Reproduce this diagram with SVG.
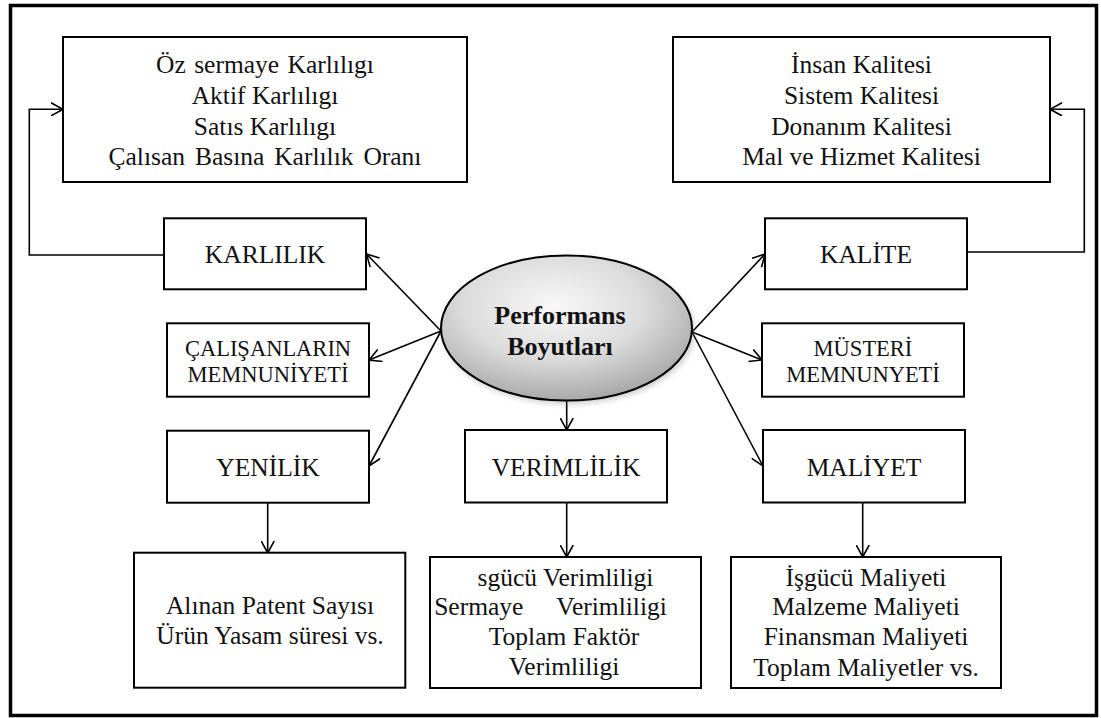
<svg xmlns="http://www.w3.org/2000/svg" width="1101" height="718" viewBox="0 0 1101 718">
  <defs>
    <style>
      .box { fill: #ffffff; stroke: #000000; stroke-width: 2; }
      .frame { fill: #ffffff; stroke: #000000; stroke-width: 3.5; }
      .conn { fill: none; stroke: #000000; stroke-width: 1.6; marker-end: url(#arrow); }
      text { font-family: "Liberation Serif", "DejaVu Serif", serif; fill: #111111; text-anchor: middle; }
      .t { font-size: 25.5px; }
      .s { font-size: 22.5px; }
      .b { font-size: 26px; font-weight: bold; }
    </style>
    <marker id="arrow" viewBox="0 0 13 14" refX="12.5" refY="7" markerWidth="13" markerHeight="14" markerUnits="userSpaceOnUse" orient="auto">
      <path d="M0.5,0.5 L12.5,7 L0.5,13.5" fill="none" stroke="#000000" stroke-width="1.6"/>
    </marker>
    <radialGradient id="ellFill" cx="45%" cy="35%" r="65%">
      <stop offset="0" stop-color="#f8f8f8"/>
      <stop offset="0.55" stop-color="#dcdcdc"/>
      <stop offset="1" stop-color="#a9a9a9"/>
    </radialGradient>
    <filter id="soft" x="-20%" y="-20%" width="140%" height="140%">
      <feGaussianBlur stdDeviation="3"/>
    </filter>
  </defs>

  <!-- outer frame -->
  <rect class="frame" x="10.5" y="5.5" width="1086" height="710"/>

  <!-- connectors -->
  <g id="connectors">
    <polyline class="conn" points="164,255 29.3,255 29.3,109.3 63,109.3"/>
    <polyline class="conn" points="967,252 1084.3,252 1084.3,109.3 1050,109.3"/>
    <line class="conn" x1="441" y1="331" x2="366.5" y2="254"/>
    <line class="conn" x1="441" y1="331" x2="369" y2="360"/>
    <line class="conn" x1="441" y1="331" x2="369" y2="466"/>
    <line class="conn" x1="692" y1="332" x2="765" y2="254"/>
    <line class="conn" x1="692" y1="332" x2="762" y2="360"/>
    <line class="conn" x1="692" y1="332" x2="763" y2="466"/>
    <line class="conn" x1="566.7" y1="401" x2="566.7" y2="430"/>
    <line class="conn" x1="267.7" y1="503" x2="267.7" y2="553"/>
    <line class="conn" x1="566.7" y1="502.5" x2="566.7" y2="557"/>
    <line class="conn" x1="862.7" y1="502.5" x2="862.7" y2="557"/>
  </g>

  <!-- central ellipse -->
  <g id="performans">
    <ellipse cx="568.5" cy="331" rx="125.5" ry="72.5" fill="#808080" opacity="0.45" filter="url(#soft)"/>
    <ellipse cx="566.5" cy="328" rx="125.5" ry="72.5" fill="url(#ellFill)" stroke="#000000" stroke-width="2"/>
    <text class="b" x="560" y="324">Performans</text>
    <text class="b" x="560" y="355">Boyutları</text>
  </g>

  <g id="karlilik-detay">
    <rect class="box" x="63" y="37" width="404" height="145"/>
    <text class="t" x="265" y="73.3" word-spacing="2">Öz sermaye Karlılıgı</text>
    <text class="t" x="265" y="104">Aktif Karlılıgı</text>
    <text class="t" x="265" y="135">Satıs Karlılıgı</text>
    <text class="t" x="265" y="165" word-spacing="3.5">Çalısan Basına Karlılık Oranı</text>
  </g>

  <g id="kalite-detay">
    <rect class="box" x="673" y="37" width="377" height="145"/>
    <text class="t" x="861.5" y="73.3">İnsan Kalitesi</text>
    <text class="t" x="861.5" y="104">Sistem Kalitesi</text>
    <text class="t" x="861.5" y="135">Donanım Kalitesi</text>
    <text class="t" x="861.5" y="165">Mal ve Hizmet Kalitesi</text>
  </g>

  <g id="karlilik">
    <rect class="box" x="164" y="218.3" width="202" height="71"/>
    <text class="t" x="265" y="263">KARLILIK</text>
  </g>

  <g id="kalite">
    <rect class="box" x="765" y="218.3" width="202" height="71"/>
    <text class="t" x="866" y="263">KALİTE</text>
  </g>

  <g id="calisan-memnuniyeti">
    <rect class="box" x="167" y="323.3" width="202" height="73.4"/>
    <text class="s" x="268" y="355.7">ÇALIŞANLARIN</text>
    <text class="s" x="268" y="381.7">MEMNUNİYETİ</text>
  </g>

  <g id="musteri-memnuniyeti">
    <rect class="box" x="762" y="323.3" width="202" height="73.4"/>
    <text class="s" x="863" y="355.7">MÜSTERİ</text>
    <text class="s" x="863" y="381.7">MEMNUNYETİ</text>
  </g>

  <g id="yenilik">
    <rect class="box" x="167" y="430.7" width="202" height="72"/>
    <text class="t" x="268" y="476">YENİLİK</text>
  </g>

  <g id="verimlilik">
    <rect class="box" x="465" y="430" width="202" height="72.5"/>
    <text class="t" x="566" y="476">VERİMLİLİK</text>
  </g>

  <g id="maliyet">
    <rect class="box" x="763" y="430" width="202" height="72.5"/>
    <text class="t" x="864" y="476">MALİYET</text>
  </g>

  <g id="yenilik-detay">
    <rect class="box" x="134" y="552.7" width="271.3" height="135"/>
    <text class="t" x="270" y="614.3">Alınan Patent Sayısı</text>
    <text class="t" x="270" y="644.3">Ürün Yasam süresi vs.</text>
  </g>

  <g id="verimlilik-detay">
    <rect class="box" x="430" y="557" width="271" height="131"/>
    <text class="t" x="565.5" y="585.7">sgücü Verimliligi</text>
    <text class="t" x="550.5" y="615" word-spacing="27">Sermaye Verimliligi</text>
    <text class="t" x="564" y="645">Toplam Faktör</text>
    <text class="t" x="564" y="675">Verimliligi</text>
  </g>

  <g id="maliyet-detay">
    <rect class="box" x="731" y="557" width="270" height="131"/>
    <text class="t" x="866" y="585.6">İşgücü Maliyeti</text>
    <text class="t" x="866" y="615.4">Malzeme Maliyeti</text>
    <text class="t" x="866" y="645.2">Finansman Maliyeti</text>
    <text class="t" x="866" y="675.7">Toplam Maliyetler vs.</text>
  </g>
</svg>
